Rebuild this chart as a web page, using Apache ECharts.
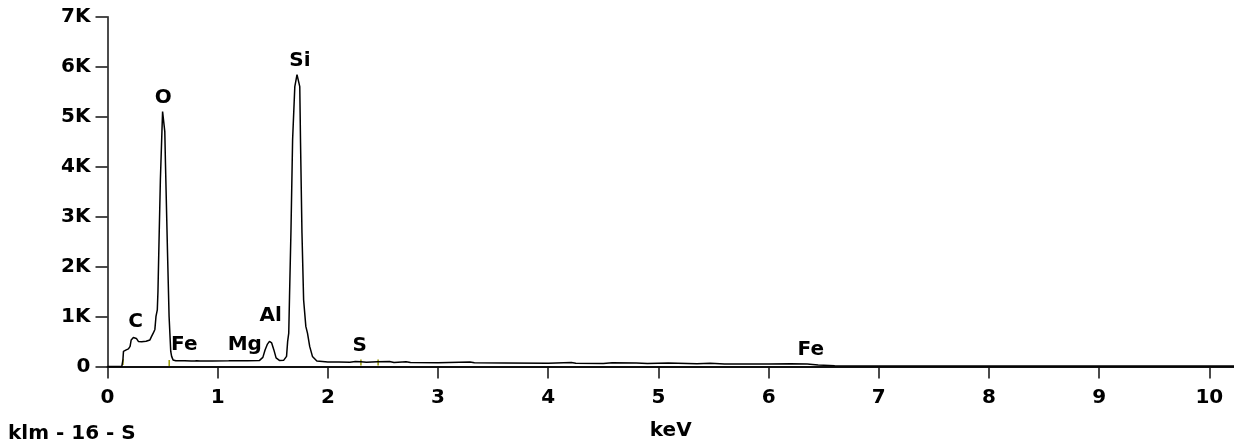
<!DOCTYPE html>
<html>
<head>
<meta charset="utf-8">
<script src="https://cdn.jsdelivr.net/npm/echarts@6/dist/echarts.min.js"></script>
<style>
html,body{margin:0;padding:0;background:#fff;}
#chart{width:1234px;height:445px;}
</style>
</head>
<body>
<div id="chart"></div>
<script>
// Spectrum (energy in keV, counts)
const energies = [
  0.00, 0.13, 0.14, 0.145, 0.17, 0.19, 0.205, 0.215, 0.235, 0.248, 0.262, 0.28, 0.31, 0.35, 0.385,
  0.40, 0.415, 0.43, 0.44, 0.452, 0.458, 0.466, 0.474, 0.48, 0.488, 0.494, 0.50, 0.512, 0.52, 0.526,
  0.538, 0.544, 0.552, 0.559, 0.566, 0.574, 0.582, 0.595, 0.62, 0.70, 0.76, 0.775, 0.79, 0.81, 0.825,
  0.84, 0.95, 1.10, 1.24, 1.255, 1.27, 1.38, 1.41, 1.43, 1.45, 1.47, 1.49, 1.51, 1.53, 1.56,
  1.60, 1.625, 1.635, 1.645, 1.652, 1.665, 1.68, 1.70, 1.72, 1.735, 1.745, 1.752, 1.765, 1.78, 1.80,
  1.815, 1.835, 1.86, 1.90, 2.0, 2.1, 2.2, 2.25, 2.3, 2.35, 2.45, 2.56, 2.6, 2.71, 2.75, 3.0,
  3.29, 3.33, 3.6, 4.0, 4.21, 4.25, 4.5, 4.58, 4.8, 4.9, 5.09, 5.35, 5.47, 5.6, 6.0, 6.2, 6.35,
  6.45, 6.6, 7.0, 8.0, 9.0, 10.23
];
const counts = [
  0, 0, 130, 300, 330, 350, 400, 530, 580, 610, 560, 500, 495, 505, 530,
  600, 665, 740, 1000, 1130, 1500, 2340, 2340, 3740, 3740, 4700, 5100, 5110, 4700, 4070,
  4070, 2340, 2340, 1000, 1000, 300, 200, 130, 115, 112, 110, 140, 110, 112, 140,
  110, 110, 112, 115, 140, 115, 120, 180, 330, 440, 500, 470, 330, 170, 120,
  125, 200, 500, 665, 1400, 2700, 4540, 5600, 5840, 5840, 5600, 4470, 2670, 1330, 800,
  665, 400, 200, 110, 90, 88, 85, 100, 95, 85, 95, 100, 80, 95, 78, 75,
  90, 72, 70, 65, 80, 62, 60, 72, 70, 60, 70, 55, 65, 50, 48, 55, 48,
  30, 15, 10, 8, 8, 8
];
// Element annotations
const elementNames = ['C', 'O', 'Fe', 'Mg', 'Al', 'Si', 'S', 'Fe'];
const elementLabelEnergy = [0.255, 0.505, 0.697, 1.246, 1.482, 1.746, 2.29, 6.383];
const elementLabelCounts = [897, 5368, 436, 430, 1015, 6119, 410, 330];
// KLM marker lines
const markerEnergies = [0.14, 0.56, 2.30, 2.456];
const markerCounts = [90, 70, 80, 80];
// Axis ticks
const xTicks = [0, 1, 2, 3, 4, 5, 6, 7, 8, 9, 10];
const yMax = 7000, yStep = 1000;

const FONT = '"DejaVu Sans", Verdana, sans-serif';
const FS = 20;
const chart = echarts.init(document.getElementById('chart'), null, {renderer: 'canvas'});
chart.setOption({
  animation: false,
  backgroundColor: '#fff',
  grid: {left: 107.5, right: 0, top: 16.7, bottom: 78.6, containLabel: false, outerBoundsMode: 'none'},
  xAxis: {
    type: 'value', min: 0, max: 10.224,
    name: 'keV', nameLocation: 'middle', nameGap: 54,
    nameTextStyle: {fontFamily: FONT, fontWeight: 'bold', fontSize: FS, color: '#000'},
    axisLine: {show: true, onZero: false, lineStyle: {color: '#111', width: 2}},
    axisTick: {show: true, length: 12, customValues: xTicks, lineStyle: {color: '#111', width: 1.5}},
    axisLabel: {customValues: xTicks, margin: 21, fontFamily: FONT, fontWeight: 'bold', fontSize: FS, color: '#000'},
    splitLine: {show: false}
  },
  yAxis: {
    type: 'value', min: 0, max: yMax, interval: yStep,
    axisLine: {show: true, lineStyle: {color: '#111', width: 1.5}},
    axisTick: {show: true, length: 12, lineStyle: {color: '#111', width: 1.5}},
    axisLabel: {margin: 17, fontFamily: FONT, fontWeight: 'bold', fontSize: FS, color: '#000',
      formatter: v => v === 0 ? '0' : (v / 1000) + 'K'},
    splitLine: {show: false}
  },
  graphic: [{
    type: 'text', left: 8, top: 424,
    style: {text: 'klm - 16 - S', font: 'bold 20px ' + FONT, fill: '#000'}
  }],
  series: [
    {
      type: 'line', data: energies.map((e, i) => [e, counts[i]]),
      showSymbol: false, symbol: 'none', smooth: false,
      lineStyle: {color: '#000', width: 1.5}, z: 3
    },
    {
      type: 'scatter', data: markerEnergies.map((e, i) => [e, markerCounts[i]]),
      symbol: 'rect', symbolSize: [1.5, 6], itemStyle: {color: '#9a9a00', opacity: 1}, z: 2
    },
    {
      type: 'scatter', data: elementLabelEnergy.map((e, i) => ({value: [e, elementLabelCounts[i]], name: elementNames[i]})),
      symbolSize: 0, itemStyle: {opacity: 1},
      label: {show: true, position: 'inside', formatter: p => p.name,
        fontFamily: FONT, fontWeight: 'bold', fontSize: FS, color: '#000', opacity: 1},
      z: 4
    }
  ]
});
</script>
</body>
</html>
